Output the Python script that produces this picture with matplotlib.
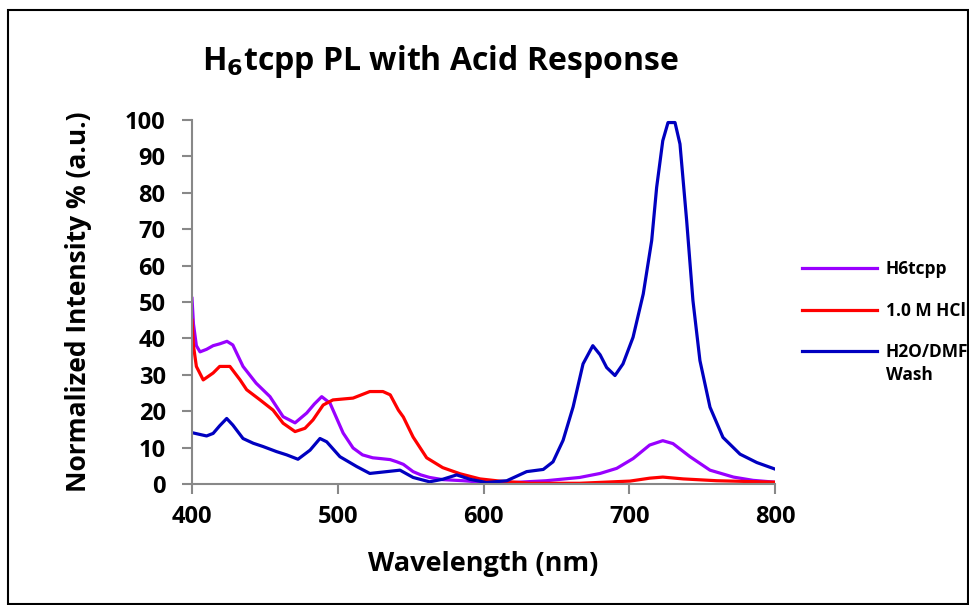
import matplotlib.pyplot as plt
from matplotlib.patches import Rectangle

plt.rcParams['font.family'] = ['Open Sans', 'DejaVu Sans']

# H6tcpp (purple)
wl_h6 = [400, 401, 403, 405.5, 410, 414.5, 419, 424, 428, 435, 444, 453.5, 462.5, 470.7, 478.7, 484, 489,
         494.7, 503.7, 510.5, 517, 524, 529, 536, 540.5, 545, 551.7, 557, 563, 572, 586, 602, 620, 643,
         666, 680, 691.4, 702.7, 714, 723, 730, 741.7, 755.4, 771.5, 785, 800]
int_h6 = [51, 44, 38, 36.3, 37, 38, 38.5, 39.2, 38.2, 32.3, 27.7, 24, 18.5, 16.8, 19.5, 22, 24,
          22.2, 14, 9.9, 8, 7.2, 7.0, 6.7, 6.1, 5.4, 3.4, 2.5, 1.8, 1.2, 0.9, 0.4, 0.4, 0.9,
          1.8, 2.9, 4.3, 7, 10.7, 11.9, 11.1, 7.5, 3.8, 1.9, 1.0, 0.5]

# 1.0 M HCl (red)
wl_hcl = [400, 401, 403, 407.7, 414.5, 419, 426, 433, 437.5, 446.7, 455.6, 462.5, 470.7, 477.5, 483, 490,
          496.7, 510.5, 522, 531, 536, 541.6, 545, 551.7, 561, 572, 584, 597.6, 611, 632, 666, 700.5,
          714, 723, 737, 760, 800]
int_hcl = [45, 38, 32.3, 28.6, 30.5, 32.3, 32.3, 28.6, 25.9, 23.1, 20.3, 16.7, 14.4, 15.3, 17.6, 21.7,
           23.1, 23.6, 25.4, 25.4, 24.5, 20.3, 18.4, 12.9, 7.2, 4.5, 2.8, 1.4, 0.8, 0.2, 0.2, 0.8,
           1.6, 1.9, 1.4, 0.9, 0.5]

# H2O/DMF Wash (blue)
wl_wash = [400, 410, 414.5, 419, 423.8, 428, 435, 442, 448.7, 458, 465, 472.7, 481, 487.8, 492.4, 501.5,
           513, 522, 533.6, 542.7, 551.7, 563, 572, 581.6, 590.7, 602, 616, 629.6, 641, 647.7, 654.6,
           661.5, 668.3, 675, 680, 684.5, 690.2, 695.7, 702.6, 709.6, 715.4, 718.8, 723, 726.6, 731.4,
           734.8, 739.4, 743.7, 748.5, 755.4, 764.3, 776, 787.5, 800]
int_wash = [14.1, 13.2, 13.9, 16, 18, 16.2, 12.5, 11.2, 10.3, 8.9, 8, 6.8, 9.3, 12.5, 11.6, 7.5,
            4.8, 2.9, 3.4, 3.8, 1.8, 0.6, 1.3, 2.5, 1.3, 0.4, 0.9, 3.4, 4, 6.1, 12,
            21.2, 33, 38, 35.5, 32, 29.8, 33, 40.3, 52.2, 66.9, 81.5, 94.3, 99.3, 99.3,
            93.4, 72.3, 50.4, 33.9, 21.1, 12.8, 8.2, 5.9, 4.1]

x_ticks = [400, 500, 600, 700, 800]
y_ticks = list(range(0, 101, 10))

fig = plt.figure(figsize=(9.7, 6.05), dpi=100)
fig.patches.append(Rectangle((8 / 970, 1 / 605), 960 / 970, 594 / 605, transform=fig.transFigure,
                             fill=False, edgecolor='black', linewidth=1.5))
ax = fig.add_axes([192 / 970, 1 - 484 / 605, 583 / 970, 364 / 605])

ax.plot(wl_h6, int_h6, color='#9900FF', lw=2.3, label='H6tcpp')
ax.plot(wl_hcl, int_hcl, color='#FF0000', lw=2.3, label='1.0 M HCl')
ax.plot(wl_wash, int_wash, color='#0000C0', lw=2.3, label='H2O/DMF')

ax.set_xlim(400, 800)
ax.set_ylim(0, 100)
ax.set_xticks(x_ticks)
ax.set_yticks(y_ticks)
for s in ['top', 'right']:
    ax.spines[s].set_visible(False)
for s in ['left', 'bottom']:
    ax.spines[s].set_color('#888888')
    ax.spines[s].set_linewidth(1.5)
ax.tick_params(axis='both', colors='#888888', width=1.5, length=7, labelcolor='black',
               labelsize=17)
ax.tick_params(axis='y', pad=12)
ax.tick_params(axis='x', pad=8)
for lab in ax.get_xticklabels() + ax.get_yticklabels():
    lab.set_fontweight('bold')

ax.set_xlabel('Wavelength (nm)', fontsize=19.5, fontweight='bold', labelpad=16)
ax.set_ylabel('Normalized Intensity % (a.u.)', fontsize=19, fontweight='bold', labelpad=24)
fig.text(440 / 970, 1 - 62 / 605, r'H$_\mathbf{6}$tcpp PL with Acid Response', fontsize=23,
         fontweight='bold', ha='center', va='center')

leg = ax.legend(loc='upper left', bbox_to_anchor=(1.02, 0.657), frameon=False, handlelength=4.3,
                prop={'weight': 'bold', 'size': 12.5}, labelspacing=1.35, handletextpad=0.5)
ax.annotate('Wash', xy=(0, 0), xycoords=leg.get_texts()[2], xytext=(0, -3),
            textcoords='offset points', va='top', ha='left', fontsize=12.5, fontweight='bold',
            zorder=10, annotation_clip=False)

fig.savefig('out.png', dpi=100)
